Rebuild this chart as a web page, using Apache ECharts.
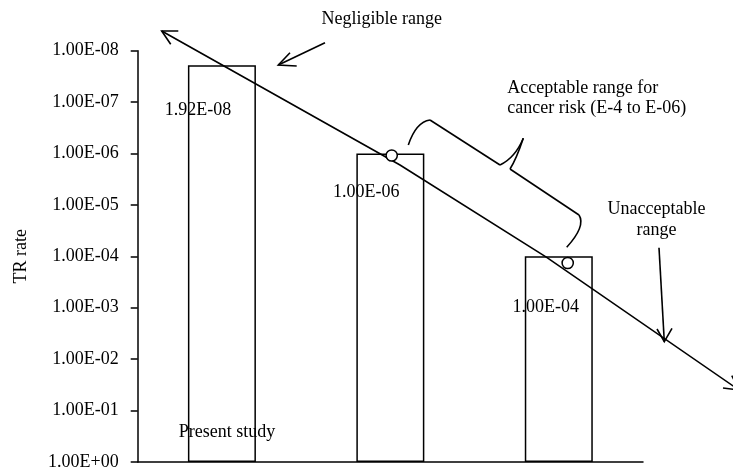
<!DOCTYPE html>
<html>
<head>
<meta charset="utf-8">
<script src="https://cdn.jsdelivr.net/npm/echarts@6/dist/echarts.min.js"></script>
<style>
  html, body { margin: 0; padding: 0; background: #fff; }
  #chart { width: 733px; height: 471px; }
</style>
</head>
<body>
<div id="chart"></div>
<script>
// Categories and TR rates shown as bars
const categories = ['Present study', '', ''];
const trRates = [1.92e-8, 1.0e-6, 1.0e-4];

// Log axis range (top = smallest rate)
const axisMin = 1e-8;
const axisMax = 1;

// Text annotations
const noteNegligible = 'Negligible range';
const noteAcceptable = ['Acceptable range for', 'cancer risk (E-4 to E-06)'];
const noteUnacceptable = ['Unacceptable', 'range'];

const FONT = '"Liberation Serif", "Times New Roman", serif';
const INK = '#000';

// 1.92e-8 -> "1.92E-08"
function sci(v) {
  const parts = Number(v).toExponential(2).split('e');
  const exp = parseInt(parts[1], 10);
  const sign = exp < 0 ? '-' : '+';
  const digits = String(Math.abs(exp)).padStart(2, '0');
  return parts[0] + 'E' + sign + digits;
}

// Per-bar nudges for the value labels
const labelNudge = [[-24, 31], [-24, 25], [-13, 37]];

const barData = trRates.map((v, i) => ({
  value: v,
  label: { offset: labelNudge[i] }
}));

function stroke() {
  return { stroke: INK, lineWidth: 1.6, fill: null };
}

function polyline(points) {
  return { type: 'polyline', z: 100, shape: { points: points }, style: stroke() };
}

function curve(x1, y1, cx, cy, x2, y2) {
  return {
    type: 'bezierCurve', z: 100,
    shape: { x1: x1, y1: y1, cpx1: cx, cpy1: cy, x2: x2, y2: y2 },
    style: stroke()
  };
}

function arrowHead(tip, a, b) {
  return polyline([a, tip, b]);
}

const chart = echarts.init(document.getElementById('chart'), null, { renderer: 'canvas' });

chart.setOption({
  animation: false,
  backgroundColor: '#fff',
  textStyle: { fontFamily: FONT, color: INK },
  grid: { left: 137.7, top: 50.7, right: 90, bottom: 7.7, containLabel: false },
  xAxis: {
    type: 'category',
    data: categories,
    z: 5,
    axisLine: { show: true, lineStyle: { color: INK, width: 1.5 } },
    axisTick: { show: false },
    axisLabel: {
      inside: true,
      margin: 21,
      fontFamily: FONT,
      fontSize: 18,
      color: INK,
      padding: [0, 0, 0, 10]
    },
    splitLine: { show: false }
  },
  yAxis: {
    type: 'log',
    logBase: 10,
    min: axisMin,
    max: axisMax,
    inverse: true,
    name: 'TR rate',
    nameLocation: 'middle',
    nameGap: 107,
    nameTextStyle: { fontFamily: FONT, fontSize: 18, color: INK },
    axisLine: { show: true, lineStyle: { color: INK, width: 1.5 } },
    axisTick: { show: true, inside: false, length: 7, lineStyle: { color: INK, width: 1.5 } },
    axisLabel: {
      margin: 19,
      fontFamily: FONT,
      fontSize: 18,
      color: INK,
      formatter: sci
    },
    splitLine: { show: false }
  },
  series: [{
    type: 'bar',
    data: barData,
    barWidth: 68,
    itemStyle: { color: '#fff', borderColor: INK, borderWidth: 1.5 },
    label: {
      show: true,
      position: 'insideTop',
      fontFamily: FONT,
      fontSize: 18,
      color: INK,
      formatter: p => sci(p.value)
    },
    z: 2
  }],
  graphic: [
    // long risk arrow across the chart
    polyline([[161.7, 31], [400, 165], [546.7, 257.3], [739, 390]]),
    arrowHead([161.7, 31], [178.3, 31], [170.7, 44.3]),
    arrowHead([739, 390], [723, 388], [731.8, 375.7]),

    // markers on the line
    { type: 'circle', z: 101, shape: { cx: 391.7, cy: 155.5, r: 5.6 },
      style: { fill: '#fff', stroke: INK, lineWidth: 1.5 } },
    { type: 'circle', z: 101, shape: { cx: 567.7, cy: 263, r: 5.6 },
      style: { fill: '#fff', stroke: INK, lineWidth: 1.5 } },

    // negligible range note
    { type: 'text', z: 100, style: { text: noteNegligible, x: 381.7, y: 19.3,
      align: 'center', verticalAlign: 'middle', font: '18px ' + FONT, fill: INK } },
    polyline([[325, 42.7], [278.3, 65]]),
    arrowHead([278.3, 65], [290, 52.7], [296.7, 66]),

    // acceptable range note and brace
    { type: 'text', z: 100, style: { text: noteAcceptable.join('\n'), x: 507.3, y: 78.3,
      align: 'left', verticalAlign: 'top', lineHeight: 20, font: '18px ' + FONT, fill: INK } },
    curve(408.3, 145, 416, 122, 430, 120),
    polyline([[430, 120], [500, 165]]),
    curve(500, 165, 515, 158, 523.3, 138.3),
    curve(523.3, 138.3, 516, 160, 510, 169),
    polyline([[510, 169], [579, 215]]),
    curve(579, 215, 586, 226, 566.7, 247.3),

    // unacceptable range note
    { type: 'text', z: 100, style: { text: noteUnacceptable.join('\n'), x: 656.5, y: 198.3,
      align: 'center', verticalAlign: 'top', lineHeight: 21, font: '18px ' + FONT, fill: INK } },
    polyline([[659, 247.7], [664.3, 341.7]]),
    arrowHead([664.3, 341.7], [657, 329], [672, 328.3])
  ]
});
</script>
</body>
</html>
